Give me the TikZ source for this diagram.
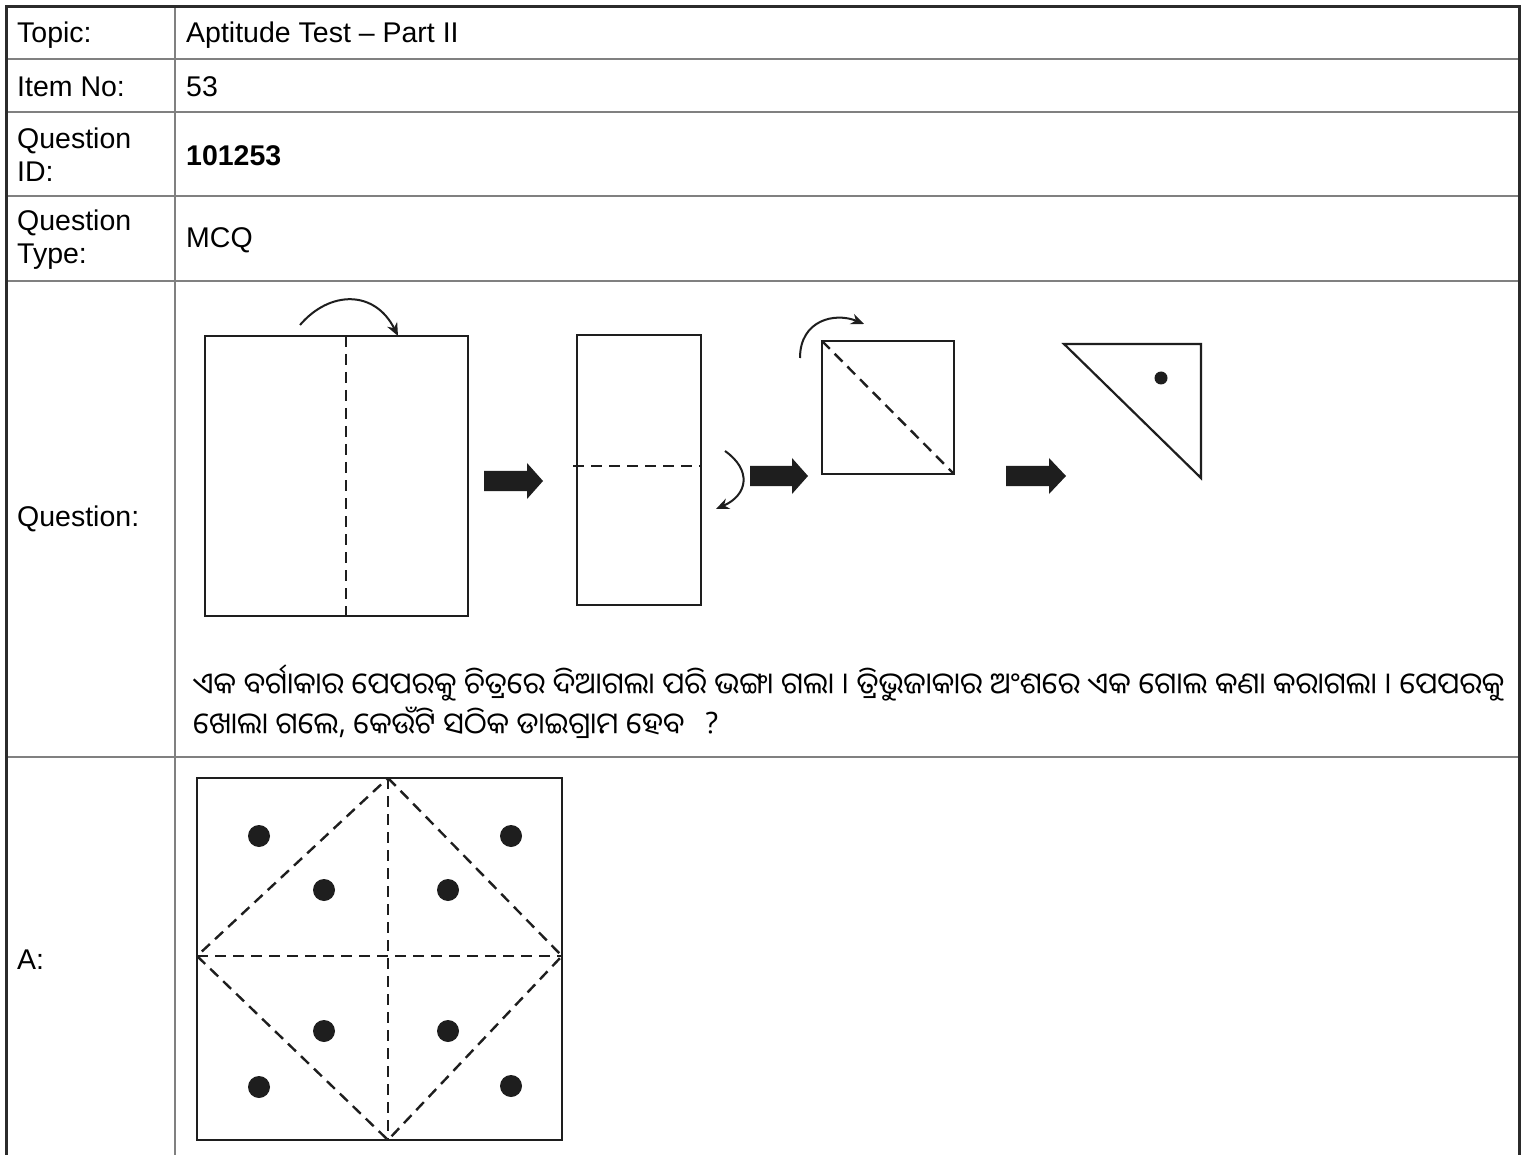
\documentclass[tikz,border=0pt]{standalone}
\usepackage{fontspec}
\setmainfont{Liberation Sans}
\newfontfamily\odia[Script=Oriya]{Noto Sans Oriya UI}
\usetikzlibrary{arrows.meta}
\definecolor{frame}{HTML}{2B2B2B}
\definecolor{grid}{HTML}{808080}
\definecolor{ink}{HTML}{1E1E1E}
\tikzset{
  lbl/.style={anchor=west,inner sep=0pt,align=left,font=\fontsize{28.5}{33}\selectfont},
  otxt/.style={anchor=west,inner sep=0pt,font=\odia\fontsize{29.8}{36}\selectfont},
  fig/.style={draw=ink,line width=2.2pt},
  fold/.style={draw=ink,line width=2.4pt,dash pattern=on 11pt off 7pt},
  turn/.style={draw=ink,line width=2pt,-{Stealth[length=13pt,width=11pt]}},
  blk/.style={fill=ink,draw=none},
  hole/.style={circle,fill=ink,inner sep=0pt,minimum size=22pt},
  dot/.style={circle,fill=ink,inner sep=0pt,minimum size=13pt}
}
\begin{document}
\begin{tikzpicture}[x=1pt,y=-1pt]
\useasboundingbox (0,0) rectangle (1524,1155);
\fill[white] (0,0) rectangle (1524,1155);
% grid
\draw[grid,line width=2.2pt] (175,7) -- (175,1155);
\foreach \yy in {59,112,196,281,757} \draw[grid,line width=2.2pt] (6,\yy) -- (1519,\yy);
\draw[frame,line width=3pt] (6,1155) -- (6,7) -- (1519,7) -- (1519,1155);
% labels
\node[lbl] (tl) at (17,35) {Topic:};
\node[lbl] (tv) at (186,35) {Aptitude Test – Part II};
\node[lbl] (il) at (17,87) {Item No:};
\node[lbl] (iv) at (186,87) {53};
\node[lbl] (ql) at (17,155) {Question\\ID:};
\node[lbl] (qv) at (186,156) {\bfseries 101253};
\node[lbl] (yl) at (17,240) {Question\\Type:};
\node[lbl] (yv) at (186,240) {MCQ};
\node[lbl] (ql2) at (17,519) {Question:};
\node[lbl] (al) at (17,960) {A:};
% figure 1
\draw[fig] (205,336) rectangle (468,616);
\draw[fold] (346,336) -- (346,616);
\draw[turn] (300,325) .. controls (330,290) and (375,290) .. (398,336);
\fill[blk] (484,471) -- (527,471) -- (527,463) -- (543,481) -- (527,499) -- (527,491) -- (484,491) -- cycle;
% figure 2
\draw[fig] (577,335) rectangle (701,605);
\draw[fold] (573,466) -- (701,466);
\draw[turn] (725,451) .. controls (752,470) and (748,495) .. (716,509);
\fill[blk] (750,466) -- (792,466) -- (792,458) -- (808,476) -- (792,494) -- (792,486) -- (750,486) -- cycle;
% figure 3
\draw[fig] (822,341) rectangle (954,474);
\draw[fold] (822,341) -- (954,474);
\draw[turn] (800,358) .. controls (800,320) and (835,312) .. (864,324);
\fill[blk] (1006,466) -- (1049,466) -- (1049,458) -- (1066,476) -- (1049,494) -- (1049,486) -- (1006,486) -- cycle;
% figure 4
\draw[fig,line join=miter] (1064,344) -- (1201,344) -- (1201,478) -- cycle;
\node[dot] (d0) at (1161,378) {};
% text
\node[otxt] (t1) at (193,683) {ଏକ ବର୍ଗାକାର ପେପରକୁ ଚିତ୍ରରେ ଦିଆଗଲା ପରି ଭଙ୍ଗା ଗଲା । ତ୍ରିଭୁଜାକାର ଅଂଶରେ ଏକ ଗୋଲ କଣା କରାଗଲା । ପେପରକୁ};
\node[otxt] (t2) at (193,723) {ଖୋଲା ଗଲେ, କେଉଁଟି ସଠିକ ଡାଇଗ୍ରାମ ହେବ \hspace{12pt}?};
% answer A
\draw[fig] (197,778) rectangle (562,1140);
\draw[fold] (388,778) -- (388,1140);
\draw[fold] (197,956) -- (562,956);
\draw[fold] (388,778) -- (562,956) -- (388,1140) -- (197,956) -- cycle;
\foreach \n/\px/\py in {a/259/836,b/324/890,c/448/890,d/511/836,e/324/1031,f/448/1031,g/259/1087,h/511/1086}
  \node[hole] (\n) at (\px,\py) {};
\end{tikzpicture}
\end{document}
